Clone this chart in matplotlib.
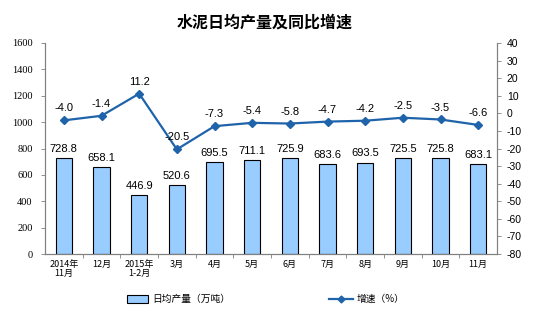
import matplotlib
matplotlib.use("Agg")
import matplotlib.pyplot as plt
from matplotlib.lines import Line2D
from matplotlib.patches import Patch

plt.rcParams['font.family'] = ['Noto Sans CJK SC', 'DejaVu Sans']

categories = ["2014年\n11月", "12月", "2015年\n1-2月", "3月", "4月", "5月",
              "6月", "7月", "8月", "9月", "10月", "11月"]
output = [728.8, 658.1, 446.9, 520.6, 695.5, 711.1, 725.9, 683.6, 693.5, 725.5, 725.8, 683.1]
growth = [-4.0, -1.4, 11.2, -20.5, -7.3, -5.4, -5.8, -4.7, -4.2, -2.5, -3.5, -6.6]
left_ticks = [0, 200, 400, 600, 800, 1000, 1200, 1400, 1600]
right_ticks = list(range(-80, 41, 10))

bar_color = "#99CCFF"
line_color = "#1F64AA"

fig = plt.figure(figsize=(5.44, 3.26), dpi=100)
ax = fig.add_axes([45 / 544, 1 - 254 / 326, 452 / 544, 211 / 326])
ax2 = ax.twinx()

x = list(range(len(categories)))
ax.bar(x, output, width=0.43, color=bar_color, edgecolor="black", linewidth=0.8, zorder=2)
for xi, v in zip(x, output):
    ax.annotate(f"{v:.1f}", (xi, v), xytext=(0, 3), textcoords="offset points",
                ha="center", va="bottom", fontsize=8, family="Liberation Sans")

ax.set_xlim(-0.5, len(categories) - 0.5)
ax.set_ylim(0, 1600)
ax.set_yticks(left_ticks)
ax.set_yticklabels([str(t) for t in left_ticks], family="Liberation Serif", fontsize=7.5)
ax.set_xticks(x)
ax.set_xticklabels(categories, fontsize=6.5, linespacing=1.1)
ax.set_xticks([i + 0.5 for i in x[:-1]], minor=True)
ax.tick_params(axis="x", which="major", length=0, pad=4)
ax.tick_params(axis="x", which="minor", length=3, width=0.6, color="#808080")
ax.tick_params(axis="y", length=3, width=0.6, color="#808080", pad=6)

ax2.plot(x, growth, color=line_color, linewidth=1.6, marker="D", markersize=4, zorder=3)
for xi, v in zip(x, growth):
    ax2.annotate(f"{v:.1f}", (xi, v), xytext=(0, 5), textcoords="offset points",
                 ha="center", va="bottom", fontsize=8, family="Liberation Sans")
ax2.set_ylim(-80, 40)
ax2.set_yticks(right_ticks)
ax2.set_yticklabels([str(t) for t in right_ticks], family="Liberation Sans", fontsize=7.5)
ax2.tick_params(axis="y", length=3, width=0.6, color="#808080", pad=4)

for a in (ax, ax2):
    a.spines["top"].set_visible(False)
    for s in ("left", "right", "bottom"):
        a.spines[s].set_color("#808080")
        a.spines[s].set_linewidth(0.8)

fig.text(265 / 544, 1 - 23 / 326, "水泥日均产量及同比增速", ha="center", va="center",
         fontsize=11.5, fontweight="bold")

leg1 = fig.legend(handles=[Patch(facecolor=bar_color, edgecolor="black", linewidth=0.8)],
                  labels=["日均产量（万吨）"], loc="center left",
                  bbox_to_anchor=(118 / 544, 1 - 299 / 326), frameon=False,
                  fontsize=7, handlelength=2.2, handleheight=0.9, handletextpad=0.4)
leg2 = fig.legend(handles=[Line2D([], [], color=line_color, linewidth=1.6, marker="D", markersize=3.5)],
                  labels=["增速（%）"], loc="center left",
                  bbox_to_anchor=(320 / 544, 1 - 299 / 326), frameon=False,
                  fontsize=7, handlelength=2.5, handletextpad=0.4)

fig.savefig("out.png", dpi=100)
